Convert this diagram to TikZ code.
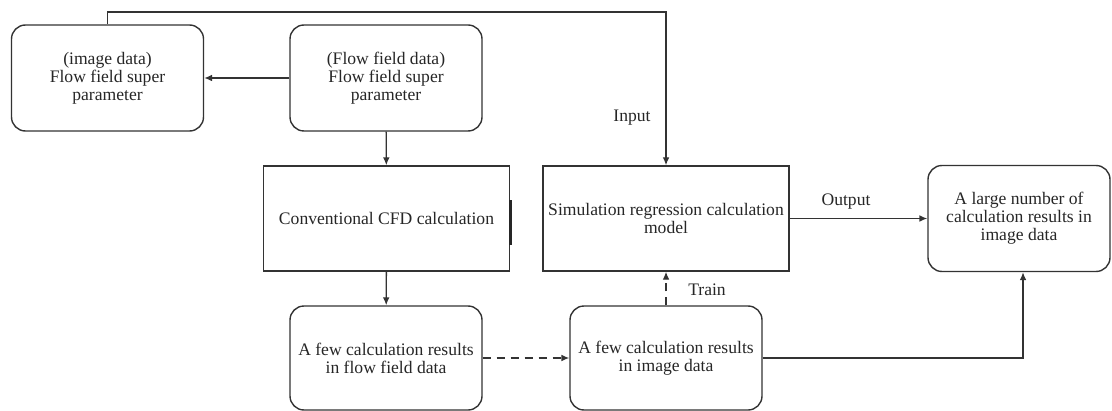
\documentclass[tikz,border=0pt]{standalone}
\usepackage{fontspec}
\setmainfont{Liberation Serif}
\usetikzlibrary{arrows.meta, positioning, calc}

\begin{document}
\begin{tikzpicture}[x=0.5pt, y=-0.5pt, >={Latex[length=4pt,width=3.4pt]},
  every node/.style={font=\fontsize{8.8}{9.1}\selectfont, text=black!85},
  line/.style={draw=black!80, line width=0.7pt},
  roundbox/.style={line, rounded corners=7pt, align=center, inner sep=0pt,
    minimum width=96pt, minimum height=53pt},
  rectbox/.style={line, align=center, inner sep=0pt,
    minimum width=123pt, minimum height=52.5pt}]
  \useasboundingbox (0,0) rectangle (1112,411);
  % boxes
  \node[roundbox] (imgpar) at (107.5,78) {(image data)\\Flow field super\\parameter};
  \node[roundbox] (flowpar) at (386,78) {(Flow field data)\\Flow field super\\parameter};
  \node[rectbox] (cfd) at (386.5,218.5) {Conventional CFD calculation};
  \node[roundbox, minimum height=52pt] (fewflow) at (386,358) {A few calculation results\\in flow field data};
  \node[roundbox, minimum height=52pt] (fewimg) at (666,358) {A few calculation results\\in image data};
  \node[rectbox] (regmodel) at (666,218.5) {Simulation regression calculation\\model};
  \node[roundbox, minimum width=91pt] (manyimg) at (1019,218.5) {A large number of\\calculation results in\\image data};
  \draw[line width=1.5pt, black!85] ($(cfd.east)+(0,-18)$) -- ($(cfd.east)+(0,26)$);
  % labels
  \node (inlbl) at (632,118) {Input};
  \node (outlbl) at (846,202) {Output};
  \node (trainlbl) at (707,290) {Train};
  % connectors
  \coordinate (topline) at (0,12);
  \draw[line, ->] (imgpar.north) -- (imgpar.north |- topline) -| (regmodel.north);
  \draw[line, ->] (flowpar) -- (imgpar);
  \draw[line, ->] (flowpar) -- (cfd);
  \draw[line, ->] (cfd) -- (fewflow);
  \draw[line, ->, dash pattern=on 4pt off 3pt] (fewflow) -- (fewimg);
  \draw[line, ->, dash pattern=on 4pt off 3pt] (fewimg) -- (regmodel);
  \draw[line, ->] (regmodel) -- (manyimg);
  \draw[line, ->] (fewimg.east) -| ($(manyimg.south)+(4,0)$);
\end{tikzpicture}
\end{document}
